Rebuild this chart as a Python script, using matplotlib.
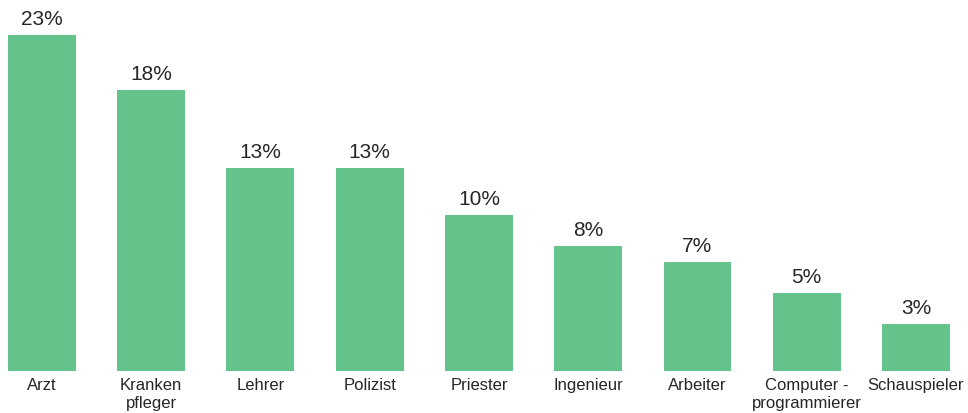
import matplotlib
matplotlib.use("Agg")
import matplotlib.pyplot as plt

categories = ["Arzt", "Kranken\npfleger", "Lehrer", "Polizist", "Priester",
              "Ingenieur", "Arbeiter", "Computer -\nprogrammierer", "Schauspieler"]
values = [23, 18, 13, 13, 10, 8, 7, 5, 3]

plt.rcParams["font.family"] = ["Liberation Sans", "DejaVu Sans"]

bar_color = "#64c28b"
text_color = "#262626"
y_top = 21.5

fig = plt.figure(figsize=(9.68, 4.14), dpi=100)
ax = fig.add_axes([0, 0.1014, 1, 0.8116])

x = list(range(len(categories)))
ax.bar(x, values, width=0.622, color=bar_color)
ax.set_xlim(-0.384, 8.476)
ax.set_ylim(0, y_top)

for xi, v in zip(x, values):
    ax.annotate(f"{v}%", xy=(xi, min(v, y_top)), xytext=(0, 5),
                textcoords="offset points", ha="center", va="bottom",
                fontsize=15, color=text_color, annotation_clip=False)

for xi, label in zip(x, categories):
    ax.annotate(label, xy=(xi, 0), xytext=(0, -4), textcoords="offset points",
                ha="center", va="top", fontsize=12, color=text_color,
                linespacing=1.3, annotation_clip=False)

ax.axis("off")
fig.savefig("out.png", dpi=100)
